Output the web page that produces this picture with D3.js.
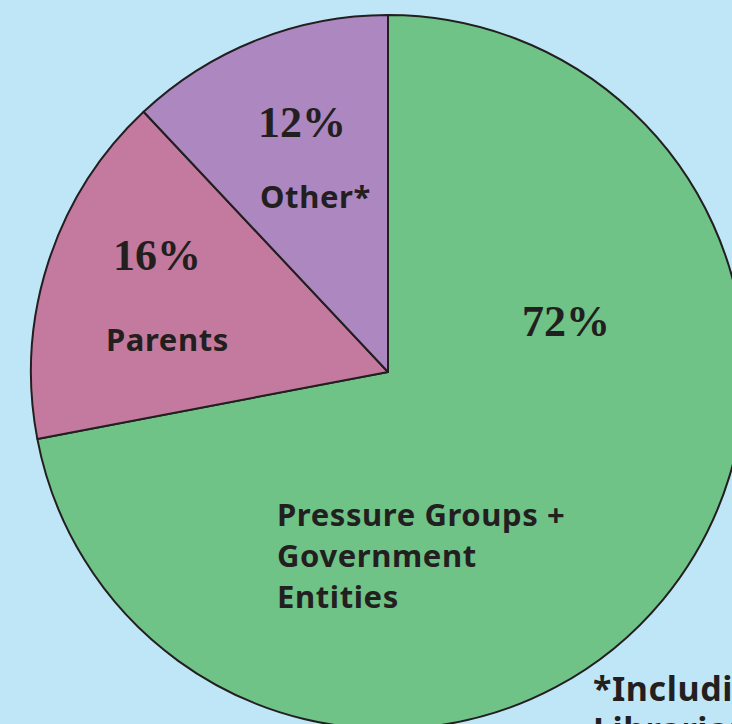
<!DOCTYPE html>
<html>
<head>
<meta charset="utf-8">
<script src="https://cdn.jsdelivr.net/npm/d3@7"></script>
<style>
  html, body { margin: 0; padding: 0; background: #bfe6f7; overflow: hidden; }
  .pct { font-family: "Liberation Serif", serif; font-weight: bold; font-size: 44px; fill: #231f20; }
  .lbl { font-family: "Noto Sans", sans-serif; font-weight: bold; font-size: 31px; letter-spacing: 0.6px; fill: #231f20; }
</style>
</head>
<body>
<script>
// data
var categories = ["Pressure Groups + Government Entities", "Parents", "Other*"];
var shares = [72, 16, 12];
var colors = ["#6fc387", "#c47a9e", "#ad87c0"];
var footnote = ["*Including", "Librarians"];

var svgWidth = 732, svgHeight = 724;
var cx = 388, cy = 372, radius = 357;

var svg = d3.select("body").append("svg").attr("width", svgWidth).attr("height", svgHeight);
svg.append("rect").attr("width", svgWidth).attr("height", svgHeight).attr("fill", "#bfe6f7");

var pieData = d3.pie().sort(null)(shares);
var arc = d3.arc().innerRadius(0).outerRadius(radius);

var g = svg.append("g").attr("transform", "translate(" + cx + "," + cy + ")");

g.selectAll("path")
  .data(pieData)
  .enter().append("path")
  .attr("d", arc)
  .attr("fill", function(d, i) { return colors[i]; })
  .attr("stroke", "#231f20")
  .attr("stroke-width", 2)
  .attr("stroke-linejoin", "round");

// label spots (offsets from center)
var pctPos = [[134, -36], [-275, -102], [-130, -235]];
var lblPos = [[-111, 154], [-282, -21], [-128, -164]];
var lblLines = [["Pressure Groups +", "Government", "Entities"], ["Parents"], ["Other*"]];

pctPos.forEach(function(p, i) {
  g.append("text").attr("class", "pct")
    .attr("x", p[0]).attr("y", p[1])
    .text(shares[i] + "%");
});

lblPos.forEach(function(p, i) {
  var t = g.append("text").attr("class", "lbl").attr("x", p[0]).attr("y", p[1]);
  lblLines[i].forEach(function(line, j) {
    t.append("tspan").attr("x", p[0]).attr("y", p[1] + j * 41).text(line);
  });
});

// footnote (runs off the edge, like the source)
svg.append("text").attr("class", "lbl")
  .attr("x", 593).attr("y", 701)
  .style("font-size", "34px")
  .text(footnote[0]);
svg.append("text").attr("class", "lbl")
  .attr("x", 593).attr("y", 742)
  .style("font-size", "34px")
  .text(footnote[1]);
</script>
</body>
</html>
